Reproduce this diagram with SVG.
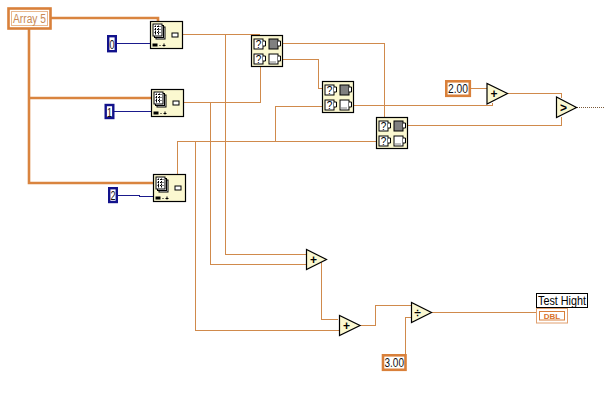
<svg xmlns="http://www.w3.org/2000/svg" xmlns:xlink="http://www.w3.org/1999/xlink" width="605" height="402" viewBox="0 0 605 402">
<style>
text{font-family:"Liberation Sans",Arial,sans-serif}
.w{fill:none;stroke:#d08a4c;stroke-width:1;shape-rendering:crispEdges}
.t{fill:none;stroke:#d9843f;stroke-width:2.6}
.b{fill:none;stroke:#1a1a8c;stroke-width:1;shape-rendering:crispEdges}
.tri,.box{fill:#fbf8d0;stroke:#000;stroke-width:1.2}
.num{fill:#fff;stroke:#d9803a;stroke-width:2.6}
.int{fill:#fff;stroke:#12128c;stroke-width:2.4}
.lab{font-size:13px;fill:#111}
.op{font-size:12px;font-weight:bold;fill:#000;text-anchor:middle}
.cup{fill:#fff;stroke:#000;stroke-width:1}
</style>
<defs>
<pattern id="h" width="2" height="2" patternUnits="userSpaceOnUse"><rect width="2" height="2" fill="#fff"/><rect width="1" height="1" fill="#000"/><rect x="1" y="1" width="1" height="1" fill="#000"/></pattern>
<g id="cupq"><rect class="cup" x="0.5" y="0.500" width="9" height="10"/><path class="cup" d="M9.500 2.500h2.500v5h-2.500"/><text x="5" y="9" font-size="10" text-anchor="middle" fill="#000">?</text></g>
<g id="cuph"><rect x="0.5" y="0.500" width="9" height="10" stroke="#000" fill="url(#h)"/><path class="cup" d="M9.500 2.500h2.500v5h-2.500"/></g>
<g id="cupe"><rect class="cup" x="0.5" y="0.500" width="9" height="10"/><path class="cup" d="M9.500 2.500h2.500v5h-2.500"/><path d="M2 8.500h6" stroke="#000" stroke-dasharray="1 1"/></g>
<g id="sel"><rect class="box" x="0" y="0" width="31" height="31"/><use xlink:href="#cupq" href="#cupq" x="2" y="3"/><use xlink:href="#cuph" href="#cuph" x="17" y="3"/><use xlink:href="#cupq" href="#cupq" x="2" y="18"/><use xlink:href="#cupe" href="#cupe" x="17" y="18"/></g>
<g id="idx"><rect class="box" x="0" y="0" width="32" height="27"/><rect x="5.500" y="5.500" width="9" height="12" fill="#fff" stroke="#000"/><rect x="4" y="4" width="9" height="12" fill="#fff" stroke="#000"/><rect x="2.500" y="2.500" width="9" height="12" fill="#fff" stroke="#000"/><path d="M4 5h6M4 8h6M4 11h6M5 4v9M8 4v9" stroke="#000" stroke-dasharray="1.500 1"/><rect x="21.500" y="11.500" width="6" height="4" fill="#fff" stroke="#000"/><rect x="2" y="22" width="5" height="3" fill="#000"/><path d="M9 24h1M12 24h3M13.500 22v3" stroke="#000"/></g>
</defs>
<rect width="605" height="402" fill="#fff"/>
<g id="connectors">
<path class="t" d="M51 18H158V21M29 29V183H154M29 98H152"/>
<path class="b" d="M117 43.500H150M114 111.500H151M118 195.500H139V196.500H154"/>
<path class="w" d="M182 34.500H259.500V35M225.500 34V254.500H306M183 102.500H260.500V66M210.500 102V264.500H306M177.500 174V141.500H376.500M195.500 141.500V330.500H339M283 43.500H384.500V117M283 59.500H318.500V88.500H322M322 106.500H275.500V141.500M354 105.500H492.500V103M408 125.500H561.500V117M507 93.500H561.500V98M471 88.500H487M321.500 262V319.500H338M360 325.500H375.500V305.500H411M405.500 354V317.500H411M431 312.500H536"/>
<path d="M577 107.500H605" fill="none" stroke="#7a5a3a" stroke-width="1" stroke-dasharray="1 1"/>
</g>
<g id="array5"><rect x="8.500" y="8.500" width="42" height="20" fill="#fff" stroke="#d9803a" stroke-width="2.600"/><rect x="11.500" y="11.500" width="36" height="14" fill="none" stroke="#e8b890"/><text x="13" y="23" font-size="12" fill="#c98a55" textLength="33" lengthAdjust="spacingAndGlyphs">Array 5</text></g>
<g id="const0"><rect class="int" x="108.200" y="36.200" width="7.600" height="15"/><text class="lab" x="109.500" y="48.500" textLength="5" lengthAdjust="spacingAndGlyphs">0</text></g>
<g id="const1"><rect class="int" x="105.700" y="105" width="7.600" height="13"/><text class="lab" x="107" y="116.500" textLength="5" lengthAdjust="spacingAndGlyphs">1</text></g>
<g id="const2"><rect class="int" x="109.200" y="188.200" width="7.600" height="13.800"/><text class="lab" x="110.500" y="200" textLength="5" lengthAdjust="spacingAndGlyphs">2</text></g>
<g id="index1"><use xlink:href="#idx" href="#idx" x="150.500" y="21.500"/></g>
<g id="index2"><use xlink:href="#idx" href="#idx" x="151.500" y="89.500"/></g>
<g id="index3"><use xlink:href="#idx" href="#idx" x="153.500" y="174.500"/></g>
<g id="select1"><use xlink:href="#sel" href="#sel" x="251.500" y="35.500"/></g>
<g id="select2"><use xlink:href="#sel" href="#sel" x="322.500" y="81.500"/></g>
<g id="select3"><use xlink:href="#sel" href="#sel" x="376.500" y="117.500"/></g>
<g id="const200"><rect class="num" x="446.300" y="81.300" width="23.500" height="14.500"/><text class="lab" x="448" y="93" textLength="20" lengthAdjust="spacingAndGlyphs">2.00</text></g>
<g id="add1"><path class="tri" d="M487 83.500V104L507.500 93.500Z"/><text class="op" x="494" y="97.500">+</text></g>
<g id="greater"><path class="tri" d="M556.500 97V117.500L576.500 107.500Z"/><text class="op" x="563.500" y="111.500">&gt;</text></g>
<g id="add2"><path class="tri" d="M306.500 249.500V269.500L326.500 259.500Z"/><text class="op" x="313.500" y="263.500">+</text></g>
<g id="add3"><path class="tri" d="M339.500 315.500V335.500L360 325.500Z"/><text class="op" x="346.500" y="329.500">+</text></g>
<g id="divide"><path class="tri" d="M411.500 302.500V322.500L431.500 312.500Z"/><text class="op" x="417.500" y="316.500">÷</text></g>
<g id="const300"><rect class="num" x="383" y="355.300" width="22.500" height="14.500"/><text class="lab" x="384.500" y="367" textLength="19.500" lengthAdjust="spacingAndGlyphs">3.00</text></g>
<g id="testHight"><rect x="536.500" y="293.500" width="51" height="14" fill="#fff" stroke="#000"/><text x="538" y="305" font-size="12.500" fill="#000" textLength="48" lengthAdjust="spacingAndGlyphs">Test Hight</text><rect x="536.500" y="308.500" width="31" height="14.500" fill="#fff" stroke="#e0a070"/><rect x="539.500" y="311.500" width="25" height="8.500" fill="#fff" stroke="#d9803a"/><text x="552" y="319" font-size="8" font-weight="bold" fill="#d9722a" text-anchor="middle">DBL</text></g>
</svg>
